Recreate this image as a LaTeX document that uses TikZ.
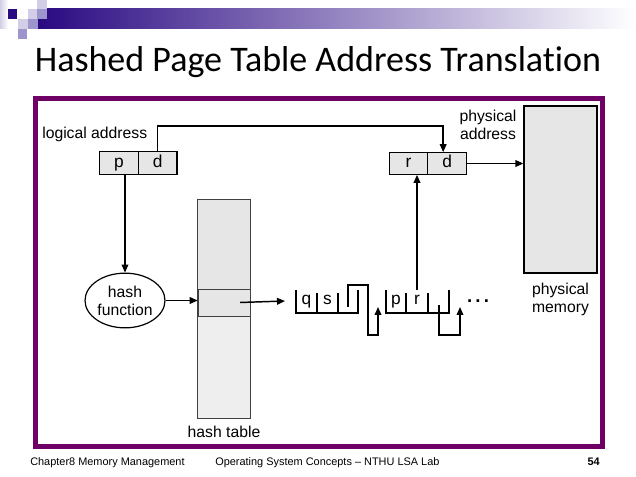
\documentclass[tikz,border=0pt]{standalone}
\usepackage{fontspec}
\setmainfont{Liberation Sans}
\newfontfamily\titlefont[Ligatures=NoCommon]{Carlito}
\usetikzlibrary{shapes,arrows.meta,positioning}
\definecolor{framepurple}{HTML}{6E0066}
\definecolor{barblue}{HTML}{2A0A82}
\definecolor{sqmid}{HTML}{9C96CC}
\definecolor{sqlight}{HTML}{D2CEE8}
\definecolor{cellgray}{HTML}{E6E6E6}
\definecolor{tablegray}{HTML}{EEEEEE}

\begin{document}
\begin{tikzpicture}[x=0.75pt,y=0.75pt,yscale=-1,xscale=1,
  cellbox/.style={draw, fill=cellgray, line width=0.9pt, outer sep=0pt, inner sep=0pt,
    minimum width=29pt, minimum height=17pt, text height=9.4pt, text depth=2.7pt,
    font=\fontsize{13}{15}\selectfont},
  lbl/.style={inner sep=0pt, align=center, font=\fontsize{11.8}{13.5}\selectfont},
  letter/.style={inner sep=0pt, text height=9.4pt, text depth=2.7pt, font=\fontsize{13}{15}\selectfont},
  foot/.style={inner sep=0pt, anchor=base west, font=\fontsize{8.2}{10}\selectfont},
  ptr/.style={line width=1.1pt, -{Triangle[length=6pt,width=5pt]}},
  wire/.style={line width=1.1pt}]
\useasboundingbox (0,0) rectangle (636,477);

% Title bar
\shade[left color=sqlight, right color=white] (0,0) rectangle (8,29);
\shade[left color=barblue, right color=white] (38,9) rectangle (636,29);
\fill[sqlight] (37,0) rectangle (47,9);
\fill[barblue] (8,9) rectangle (17,19);
\fill[sqlight] (28,9) rectangle (37,19);
\fill[sqmid] (37,9) rectangle (47,19);
\fill[sqlight] (18,19) rectangle (28,29);
\fill[sqmid] (28,19) rectangle (38,29);
\fill[sqmid] (18,29) rectangle (27,39);

% Text Node
\node (title) [anchor=base, inner sep=0pt, font=\titlefont\fontsize{27}{30}\selectfont] at (318,72) {Hashed Page Table Address Translation};

% Frame
\draw[framepurple, line width=3.75pt] (35.5,98.5) rectangle (602.5,446.5);

% Logical address
\node (pcell) [cellbox] at (119,163) {p};
\node (dcell) [cellbox, right=0pt of pcell] {d};
\node (logaddr) [lbl, anchor=west] at (42,134) {logical address};

% Physical address
\node (rcell) [cellbox] at (408.5,163.5) {r};
\node (physd) [cellbox, right=0pt of rcell] {d};
\node (physaddr) [lbl] at (488,125) {physical\\address};

% Physical memory
\node (mem) [draw, fill=cellgray, line width=0.9pt, minimum width=54.75pt, minimum height=125.25pt] at (560.5,189.5) {};
\node (memlbl) [lbl, below=7pt of mem] {physical\\memory};

% Hash function
\node (hashfn) [draw, ellipse, line width=0.9pt, inner sep=0pt, minimum width=60pt, minimum height=41pt, lbl] at (125,300.5) {hash\\function};

% Hash table
\node (htable) [fill=tablegray, minimum width=39pt, minimum height=163.5pt] at (224,309) {};
\node (htop) [fill=cellgray, inner sep=0pt, minimum width=39pt, minimum height=66.75pt] at (224,244.5) {};
\node (hslot) [draw=black!75, fill=cellgray, line width=0.5pt, minimum width=39pt, minimum height=20.25pt] at (224,302.5) {};
\draw[black!75, line width=0.7pt] (htable.north west) rectangle (htable.south east);
\node (htlbl) [lbl, below=6pt of htable] {hash table};

% Chain entries
\draw[wire] (296,290) -- (296,313) -- (358,313) -- (358,290);
\draw[wire] (317,293) -- (317,313) (338,293) -- (338,313);
\node (chainq) [letter] at (306.5,300) {q};
\node (chains) [letter] at (327.5,300) {s};
\draw[wire] (386,290) -- (386,313) -- (449,313) -- (449,290);
\draw[wire] (406,293) -- (406,313) (428,293) -- (428,313);
\node (chainp) [letter] at (396,300) {p};
\node (chainr) [letter] at (417,300) {r};
\node (dots) [inner sep=0pt, anchor=base, font=\fontsize{14}{15}\selectfont\bfseries] at (478,303) {.\hspace{2.4pt}.\hspace{2.4pt}.};

\coordinate (next1) at (348,307);
\coordinate (into2) at (378,307);
\coordinate (next2) at (439,305);
\coordinate (into3) at (460,307);
\coordinate (rtop) at (417,290);
\coordinate (chainin) at (285,301);

% Arrows
\draw[ptr] (dcell.north) -- ++(0,-25.5) -| ([xshift=-3pt]physd.north);
\draw[ptr] (physd.east) -- (physd.east -| mem.west);
\draw[ptr] (pcell.south -| hashfn.north) -- (hashfn.north);
\draw[ptr] (hashfn.east) -- (hashfn.east -| htable.west);
\draw[ptr] ([xshift=12pt]hslot.center) -- (chainin);
\draw[ptr] (next1) -- (348,285) -- (368,285) -- (368,335) -- (378,335) -- (into2);
\draw[ptr] (next2) -- (439,335) -- (460,335) -- (into3);
\draw[ptr] (rtop) -- (rtop |- rcell.south);

% Footer
\node (chapter) [foot] at (30,465) {Chapter8 Memory Management};
\node (course) [foot] at (215,465) {Operating System Concepts -- NTHU LSA Lab};
\node (pagenum) [foot, anchor=base east, font=\fontsize{8.2}{10}\selectfont\bfseries] at (600,465) {54};

\end{tikzpicture}
\end{document}
